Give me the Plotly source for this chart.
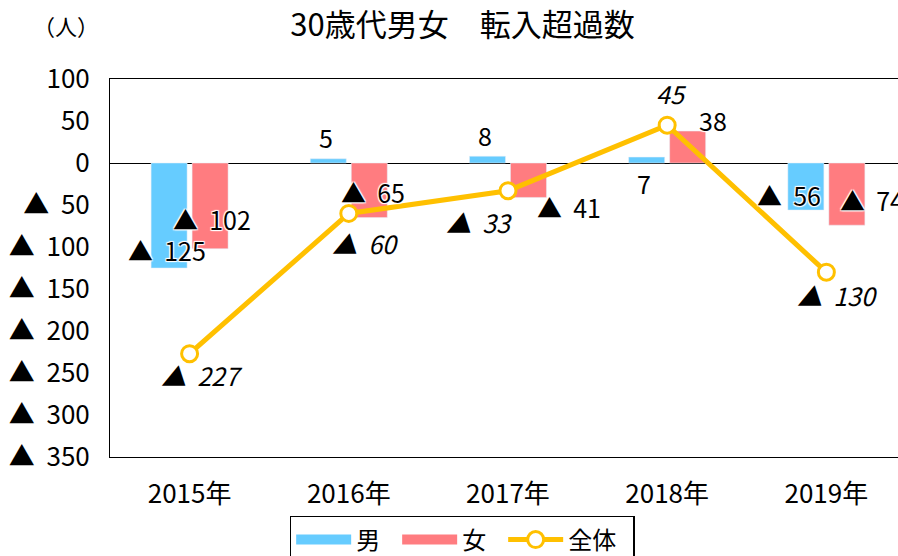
import plotly.graph_objects as go

years = ["2015年", "2016年", "2017年", "2018年", "2019年"]
male = [-125, 5, 8, 7, -56]
female = [-102, -65, -41, 38, -74]
total = [-227, -60, -33, 45, -130]
y_ticks = [100, 50, 0, -50, -100, -150, -200, -250, -300, -350]

C_MALE = "#66CCFF"
C_FEMALE = "#FF7C80"
C_TOTAL = "#FFC000"
FONT = "Noto Sans CJK JP, sans-serif"
PAD = "\u2002"


def fmt(v):
    return f"▲\u00a0\u00a0{abs(v)}" if v < 0 else f"{v}"


fig = go.Figure()
fig.add_trace(go.Bar(x=years, y=male, name="男", marker_color=C_MALE,
                     showlegend=False))
fig.add_trace(go.Bar(x=years, y=female, name="女", marker_color=C_FEMALE,
                     showlegend=False))
fig.add_trace(go.Scatter(x=years, y=total, name="全体", mode="lines+markers",
                         line=dict(color=C_TOTAL, width=5),
                         marker=dict(size=16, color="white",
                                     line=dict(color=C_TOTAL, width=3)),
                         showlegend=False))
# legend entries
fig.add_trace(go.Scatter(x=[None], y=[None], mode="lines", name="男" + PAD,
                         line=dict(color=C_MALE, width=10)))
fig.add_trace(go.Scatter(x=[None], y=[None], mode="lines", name="女" + PAD,
                         line=dict(color=C_FEMALE, width=10)))
fig.add_trace(go.Scatter(x=[None], y=[None], mode="lines+markers",
                         name="全体" + PAD,
                         line=dict(color=C_TOTAL, width=5),
                         marker=dict(size=16, color="white",
                                     line=dict(color=C_TOTAL, width=3))))

halo = "1px 1px 1px white, -1px -1px 1px white, 1px -1px 1px white, -1px 1px 1px white"

male_off = [(-23, 18), (-23, 22), (-23, 21), (-23, -26), (-37, 15)]
female_off = [(22, 30), (24, 26), (61, -10), (46, 11), (46, 25)]
total_off = [(12, -21), (17, -30), (-28, -31), (4, 32), (11, -23)]

for vals, offs, italic in ((male, male_off, False), (female, female_off, False),
                           (total, total_off, True)):
    for x, v, (dx, dy) in zip(years, vals, offs):
        fig.add_annotation(x=x, y=v, xref="x", yref="y", text=fmt(v),
                           showarrow=False, xshift=dx, yshift=dy,
                           font=dict(size=25, color="black", family=FONT,
                                     style="italic" if italic else "normal",
                                     shadow=halo))

fig.add_annotation(text="（人）", xref="paper", yref="paper", x=-0.100,
                   y=1.143, xanchor="left", yanchor="middle", showarrow=False,
                   font=dict(size=22, family=FONT, color="black"))

fig.update_layout(
    width=898, height=556,
    margin=dict(l=110, r=0, t=79, b=99, autoexpand=False),
    paper_bgcolor="white", plot_bgcolor="white",
    title=dict(text="30歳代男女　転入超過数", x=0.515, xanchor="center",
               y=0.955, yanchor="middle",
               font=dict(size=31, family=FONT, color="black")),
    font=dict(family=FONT, color="black"),
    barmode="group", bargap=0.485, bargroupgap=0.122,
    showlegend=True,
    legend=dict(orientation="h", x=0.228, xanchor="left", y=-0.156,
                yanchor="top", bordercolor="black", borderwidth=1.5,
                font=dict(size=24, family=FONT), itemwidth=55,
                bgcolor="white"),
    xaxis=dict(type="category", range=[-0.5, 4.45], showline=True,
               linecolor="black", linewidth=1, mirror=True, ticks="",
               tickfont=dict(size=26), ticklabelstandoff=14,
               showgrid=False, fixedrange=True),
    yaxis=dict(range=[-350, 100], tickvals=y_ticks,
               ticktext=[fmt(v) for v in y_ticks], showline=True,
               linecolor="black", linewidth=1, mirror=False, ticks="",
               tickfont=dict(size=26), ticklabelstandoff=14,
               showgrid=False, zeroline=True, zerolinecolor="black",
               zerolinewidth=1),
)

fig.write_html("out.html", config={"displayModeBar": False},
               post_script="document.body.style.margin='0';")
